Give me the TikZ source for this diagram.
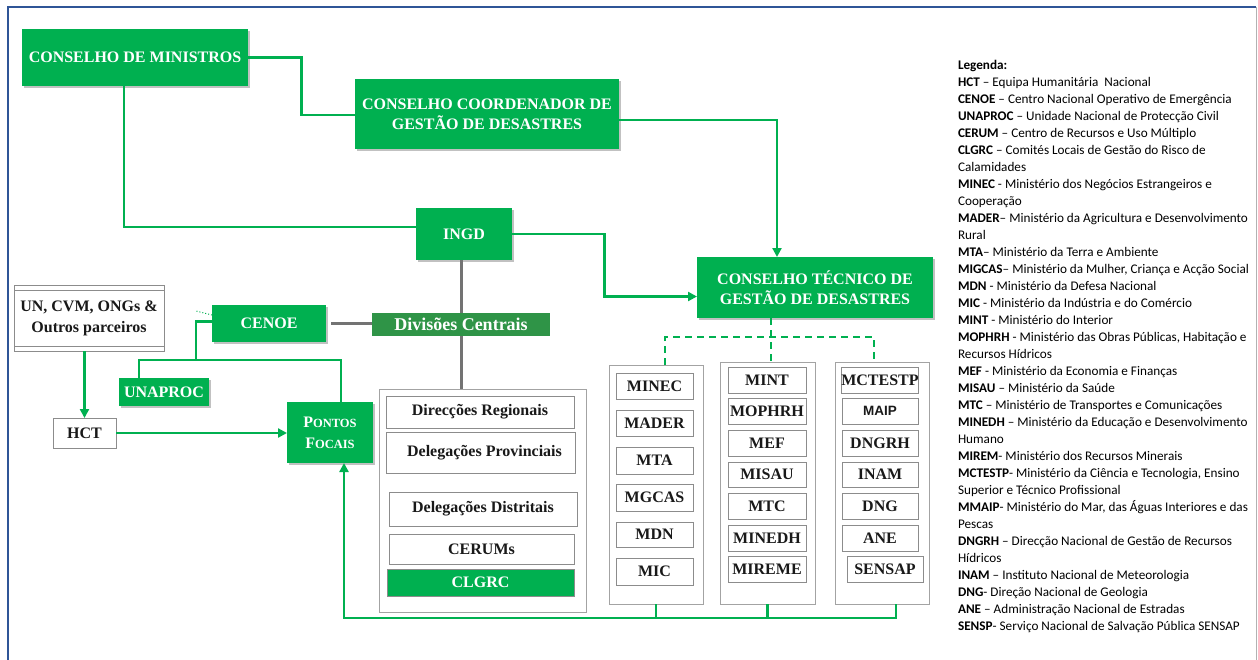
\documentclass[tikz,border=0pt]{standalone}
\usepackage{fontspec}
\setmainfont{Liberation Serif}
\newfontfamily\legfont{Carlito}
\newfontfamily\arialfont{Liberation Sans}
\usetikzlibrary{arrows.meta,shadows,calc}
\definecolor{gr}{HTML}{00B050}
\definecolor{dgr}{HTML}{2F9447}
\definecolor{frameblue}{HTML}{2F5597}
\definecolor{bgrey}{HTML}{8C8C8C}
\newcommand\bx[7]{\node[#6, minimum width={#4-#2}, minimum height={#5-#3}] (#1) at ({(#2+#4)/2},{(#3+#5)/2}) {#7};}
\newcommand\sca[2]{{\fontsize{16}{21}\selectfont #1}{\fontsize{12.5}{21}\selectfont #2}}
\begin{document}
\begin{tikzpicture}[x=1pt,y=-1pt,
  every node/.style={inner sep=0pt, outer sep=0pt},
  gbox/.style={fill=gr, text=white, align=center, font=\bfseries\fontsize{16}{20}\selectfont,
     drop shadow={shadow xshift=2pt, shadow yshift=-2pt, opacity=.35, fill=black!70}},
  dbox/.style={fill=dgr, text=white, align=center, font=\bfseries\fontsize{18}{20}\selectfont},
  wbox/.style={draw=bgrey, line width=1pt, fill=white, text=black!90, align=center, font=\bfseries\fontsize{16}{21}\selectfont},
  cbox/.style={draw=bgrey!80, line width=1pt},
  gline/.style={draw=gr, line width=2.6pt},
  garrow/.style={gline, -{Triangle[length=9pt,width=9pt]}},
  gdash/.style={draw=gr, line width=2pt, dash pattern=on 7pt off 5pt},
  greyline/.style={draw=black!55, line width=3pt},
  legend/.style={align=left, font=\legfont\fontsize{13.2}{17.0}\selectfont, text=black}
]
\useasboundingbox (0,0) rectangle (1258,659);
% frame
\draw[frameblue, line width=2pt] (8,660) -- (8,7) -- (1256,7);
\draw[black!30, line width=1pt] (1256,7) -- (1256,660);

% green boxes
\bx{cdm}{22}{29}{248}{86}{gbox}{CONSELHO DE MINISTROS}
\bx{ccgd}{355}{79}{619}{149}{gbox}{CONSELHO COORDENADOR DE\\GESTÃO DE DESASTRES}
\bx{ingd}{416}{208}{512}{260}{gbox}{INGD}
\bx{ctgd}{697}{257}{933}{318}{gbox}{CONSELHO TÉCNICO DE\\GESTÃO DE DESASTRES}
\bx{cenoe}{212}{305}{326}{342}{gbox}{CENOE}
\bx{div}{372}{313}{550}{336}{dbox}{Divisões Centrais}
\bx{unaproc}{119}{378}{209}{406}{gbox}{UNAPROC}
\bx{pf}{287}{402}{373}{463}{gbox, font=\bfseries\fontsize{16}{21}\selectfont}{\sca{P}{ONTOS}\\\sca{F}{OCAIS}}

% white boxes left
\bx{un}{14}{285}{164}{351}{wbox}{UN, CVM, ONGs \&\\Outros parceiros}
\draw[bgrey, line width=1pt] (un.north west) ++(0,5) -- ++(150,0);
\draw[bgrey, line width=1pt] (un.south west) ++(0,-5) -- ++(150,0);
\bx{hct}{53}{418}{116}{448}{wbox}{HCT}

% container of divisions
\bx{cont}{379}{389}{586}{612}{cbox}{}
\bx{dreg}{386}{396}{574}{428}{wbox}{Direcções Regionais}
\bx{dprov}{386}{432}{575}{473}{wbox}{\ \ Delegações Provinciais}
\bx{ddist}{389}{492}{577}{526}{wbox}{Delegações Distritais}
\bx{cerum}{389}{534}{574}{564}{wbox}{CERUMs}
\bx{clgrc}{387}{569}{574}{596}{wbox, fill=gr, text=white}{CLGRC}

% ministry columns
\bx{col1}{609}{365}{703}{604}{cbox}{}
\bx{col2}{720}{362}{815}{604}{cbox}{}
\bx{col3}{835}{362}{929}{604}{cbox}{}

\bx{minec}{616}{373}{693}{399}{wbox}{MINEC}
\bx{mader}{616}{410}{693}{436}{wbox}{MADER}
\bx{mta}{616}{447}{693}{474}{wbox}{MTA}
\bx{mgcas}{616}{484}{693}{511}{wbox}{MGCAS}
\bx{mdn}{616}{522}{693}{547}{wbox}{MDN}
\bx{mic}{616}{558}{693}{585}{wbox}{MIC}

\bx{mint}{728}{367}{806}{393}{wbox}{MINT}
\bx{mophrh}{728}{398}{806}{424}{wbox}{MOPHRH}
\bx{mef}{728}{430}{806}{456}{wbox}{MEF}
\bx{misau}{728}{462}{806}{487}{wbox}{MISAU}
\bx{mtc}{728}{493}{806}{519}{wbox}{MTC}
\bx{minedh}{728}{525}{806}{551}{wbox}{MINEDH}
\bx{mireme}{728}{556}{806}{582}{wbox}{MIREME}

\bx{mctestp}{842}{367}{918}{393}{wbox}{MCTESTP}
\bx{maip}{842}{398}{918}{424}{wbox, font=\arialfont\bfseries\fontsize{13.5}{16}\selectfont}{MAIP}
\bx{dngrh}{842}{430}{918}{456}{wbox}{DNGRH}
\bx{inam}{842}{462}{918}{487}{wbox}{INAM}
\bx{dng}{842}{493}{918}{519}{wbox}{DNG}
\bx{ane}{842}{525}{918}{551}{wbox}{ANE}
\bx{sensap}{847}{556}{923}{582}{wbox}{SENSAP}

% connectors
\coordinate (m1) at ($(cdm.east)!0.5!([yshift=-1pt]ccgd.west)$);
\draw[gline] (cdm.east) -| (m1) |- ([yshift=-1pt]ccgd.west);
\draw[gline] ([xshift=-11pt]cdm.south) |- ([yshift=7pt]ingd.west);
\draw[garrow] ([yshift=-6pt]ccgd.east) -| ([xshift=-38pt]ctgd.north);
\coordinate (m2) at ($(ingd.east)!0.5!([yshift=-9pt]ctgd.west)$);
\draw[garrow] (ingd.east) -| (m2) |- ([yshift=-9pt]ctgd.west);

\draw[greyline] (ingd.south -| div.north) -- (div.north);
\draw[greyline] (div.south) -- (div.south |- cont.north);
\draw[greyline] ([xshift=5pt]cenoe.east) -- (cenoe.east -| div.west);

\draw[gr, line width=1pt, dotted] ([yshift=-10pt]cenoe.north west) -- ++(-16,-4);
\coordinate (j) at (196,360);
\draw[gline] ([yshift=2pt]cenoe.west) -| (j);
\draw[gline] ([xshift=-25pt]unaproc.north) |- (j) -| ([xshift=11pt]pf.north);

\draw[garrow] (un.south -| hct.north) -- (hct.north);
\draw[garrow] (hct.east) -- (hct.east -| pf.west);

\coordinate (bl) at (344,618);
\draw[garrow] ([xshift=14pt]col3.south) |- (bl) -- (bl |- pf.south);
\draw[gline] (col1.south) -- (col1.south |- bl);
\draw[gline] (col2.south) -- (col2.south |- bl);

\coordinate (dl) at (665,337);
\coordinate (dr) at (874,337);
\draw[gdash] ([xshift=-44pt]ctgd.south) -- ([xshift=-44pt]ctgd.south |- col2.north);
\draw[gdash] (dl |- col1.north) -- (dl) -- (dr) -- (dr |- col3.north);

% legend
\node[legend, anchor=north west] (leg) at (958,60) {\textbf{Legenda:}\\
\textbf{HCT} – Equipa Humanitária~ Nacional\\
\textbf{CENOE} – Centro Nacional Operativo de Emergência\\
\textbf{UNAPROC} – Unidade Nacional de Protecção Civil\\
\textbf{CERUM} – Centro de Recursos e Uso Múltiplo\\
\textbf{CLGRC} – Comités Locais de Gestão do Risco de\\
Calamidades\\
\textbf{MINEC} - Ministério dos Negócios Estrangeiros e\\
Cooperação\\
\textbf{MADER}– Ministério da Agricultura e Desenvolvimento\\
Rural\\
\textbf{MTA}– Ministério da Terra e Ambiente\\
\textbf{MIGCAS}– Ministério da Mulher, Criança e Acção Social\\
\textbf{MDN} - Ministério da Defesa Nacional\\
\textbf{MIC} - Ministério da Indústria e do Comércio\\
\textbf{MINT} - Ministério do Interior\\
\textbf{MOPHRH} - Ministério das Obras Públicas, Habitação e\\
Recursos Hídricos\\
\textbf{MEF} - Ministério da Economia e Finanças\\
\textbf{MISAU} – Ministério da Saúde\\
\textbf{MTC} – Ministério de Transportes e Comunicações\\
\textbf{MINEDH} – Ministério da Educação e Desenvolvimento\\
Humano\\
\textbf{MIREM}- Ministério dos Recursos Minerais\\
\textbf{MCTESTP}- Ministério da Ciência e Tecnologia, Ensino\\
Superior e Técnico Profissional\\
\textbf{MMAIP}- Ministério do Mar, das Águas Interiores e das\\
Pescas\\
\textbf{DNGRH} – Direcção Nacional de Gestão de Recursos\\
Hídricos\\
\textbf{INAM} – Instituto Nacional de Meteorologia\\
\textbf{DNG}- Direção Nacional de Geologia\\
\textbf{ANE} – Administração Nacional de Estradas\\
\textbf{SENSP}- Serviço Nacional de Salvação Pública SENSAP};
\end{tikzpicture}
\end{document}
